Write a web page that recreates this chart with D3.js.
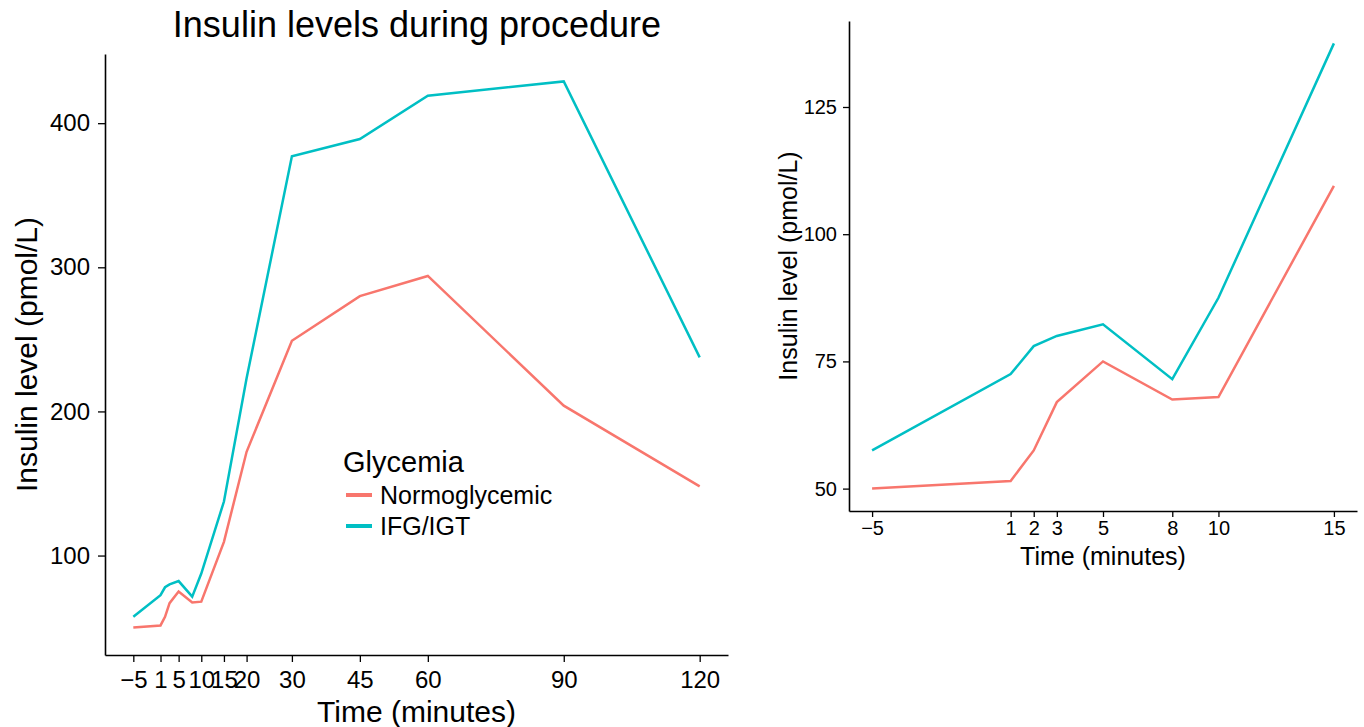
<!DOCTYPE html>
<html>
<head>
<meta charset="utf-8">
<script src="https://cdn.jsdelivr.net/npm/d3@7"></script>
<style>
  body { margin: 0; background: #fff; }
  text { font-family: "Liberation Sans", Arial, sans-serif; fill: #000; }
</style>
</head>
<body>
<div id="container"></div>
<script>
// data
const times = [-5, 1, 2, 3, 5, 8, 10, 15, 20, 30, 45, 60, 90, 120];
const normoglycemic = [50, 51.5, 57.5, 67, 75, 67.5, 68, 109.5, 172, 249, 280, 294, 204, 148];
const ifgIgt = [57.5, 72.5, 78, 80, 82.3, 71.5, 87.5, 137.5, 223, 377, 389, 419, 429, 237.5];
const groups = ["Normoglycemic", "IFG/IGT"];
const colours = ["#F8766D", "#00BFC4"];

const leftTicks = [-5, 1, 5, 10, 15, 20, 30, 45, 60, 90, 120];
const leftYTicks = [100, 200, 300, 400];
const rightTicks = [-5, 1, 2, 3, 5, 8, 10, 15];
const rightYTicks = [50, 75, 100, 125];

const series = groups.map((g, i) => ({
  name: g,
  colour: colours[i],
  values: times.map((t, j) => ({ t: t, v: (i === 0 ? normoglycemic : ifgIgt)[j] }))
}));

const svg = d3.select("#container").append("svg")
  .attr("width", 1364)
  .attr("height", 727);

const fmt = d => d < 0 ? "\u2212" + Math.abs(d) : String(d);

function drawPanel(opts) {
  const x = d3.scaleLinear().domain(opts.xDomain).range([opts.left, opts.right]);
  const y = d3.scaleLinear().domain(opts.yDomain).range([opts.bottom, opts.top]);
  const g = svg.append("g");

  const xAxis = g.append("g")
    .attr("transform", "translate(0," + opts.bottom + ")")
    .call(d3.axisBottom(x).tickValues(opts.xTicks).tickFormat(fmt).tickSize(opts.tickLen).tickSizeOuter(0));
  const yAxis = g.append("g")
    .attr("transform", "translate(" + opts.left + ",0)")
    .call(d3.axisLeft(y).tickValues(opts.yTicks).tickFormat(fmt).tickSize(opts.tickLen).tickSizeOuter(0));

  [xAxis, yAxis].forEach(a => {
    a.select(".domain").attr("stroke", "#000").attr("stroke-width", 1.6);
    a.selectAll(".tick line").attr("stroke", "#000").attr("stroke-width", 1.3);
    a.selectAll(".tick text").attr("font-size", opts.tickSize)
      .attr("font-family", "Liberation Sans, Arial, sans-serif").attr("fill", "#000");
  });
  xAxis.selectAll(".tick text").attr("y", opts.xLabelGap).attr("dy", "0.71em");
  yAxis.selectAll(".tick text").attr("x", -opts.yLabelGap);

  const line = d3.line()
    .x(d => x(d.t))
    .y(d => y(d.v));

  series.forEach(s => {
    g.append("path")
      .datum(s.values.filter(d => d.t >= opts.xDomain[0] && d.t <= opts.xDomain[1]))
      .attr("fill", "none")
      .attr("stroke", s.colour)
      .attr("stroke-width", 2.5)
      .attr("d", line);
  });

  g.append("text")
    .attr("x", (opts.left + opts.right) / 2)
    .attr("y", opts.xTitleY)
    .attr("text-anchor", "middle")
    .attr("font-size", opts.titleSize)
    .text("Time (minutes)");

  g.append("text")
    .attr("transform", "translate(" + opts.yTitleX + "," + ((opts.top + opts.bottom) / 2) + ") rotate(-90)")
    .attr("text-anchor", "middle")
    .attr("font-size", opts.titleSize)
    .text("Insulin level (pmol/L)");

  return g;
}

const leftPanel = drawPanel({
  xDomain: [-11.25, 126.25], yDomain: [31, 448],
  left: 105, right: 728, top: 54, bottom: 655,
  xTicks: leftTicks, yTicks: leftYTicks, tickLen: 7,
  xLabelGap: 16, yLabelGap: 15,
  tickSize: 24, titleSize: 30, xTitleY: 722, yTitleX: 37
});

drawPanel({
  xDomain: [-6, 16], yDomain: [45.6, 141.9],
  left: 849, right: 1357, top: 21, bottom: 511,
  xTicks: rightTicks, yTicks: rightYTicks, tickLen: 6,
  xLabelGap: 10, yLabelGap: 12,
  tickSize: 20, titleSize: 25, xTitleY: 565, yTitleX: 797
});

// title
svg.append("text")
  .attr("x", 417)
  .attr("y", 37)
  .attr("text-anchor", "middle")
  .attr("font-size", 36)
  .text("Insulin levels during procedure");

// legend
const legend = leftPanel.append("g").attr("transform", "translate(343,472)");
legend.append("text")
  .attr("x", 0).attr("y", 0)
  .attr("font-size", 29)
  .text("Glycemia");
series.forEach((s, i) => {
  legend.append("line")
    .attr("x1", 3).attr("x2", 29)
    .attr("y1", 23 + i * 31).attr("y2", 23 + i * 31)
    .attr("stroke", s.colour)
    .attr("stroke-width", 4);
  legend.append("text")
    .attr("x", 37).attr("y", 23 + i * 31)
    .attr("dy", "0.36em")
    .attr("font-size", 25)
    .text(s.name);
});
</script>
</body>
</html>
